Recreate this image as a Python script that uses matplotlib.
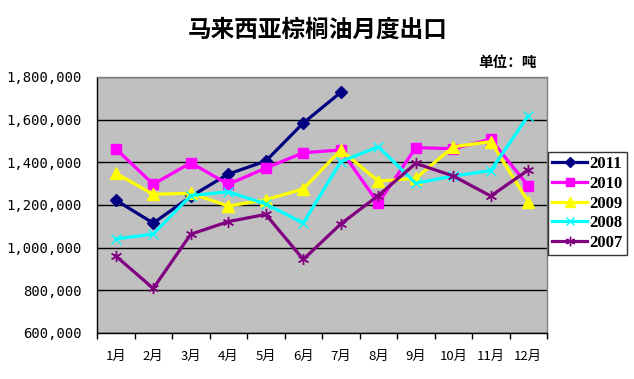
import matplotlib
matplotlib.use("Agg")
import matplotlib.pyplot as plt
from matplotlib.ticker import FuncFormatter, FixedLocator

plt.rcParams['font.family'] = ['Noto Sans CJK SC', 'DejaVu Sans']

months = ['1月', '2月', '3月', '4月', '5月', '6月', '7月', '8月', '9月', '10月', '11月', '12月']
s2011 = [1223000, 1115000, 1240000, 1345000, 1406000, 1584000, 1728000]
s2010 = [1464000, 1297000, 1398000, 1297000, 1373000, 1445000, 1458000, 1208000, 1469000, 1464000, 1508000, 1289000]
s2009 = [1349000, 1250000, 1255000, 1195000, 1225000, 1275000, 1458000, 1312000, 1325000, 1473000, 1497000, 1216000]
s2008 = [1041000, 1064000, 1244000, 1262000, 1205000, 1115000, 1403000, 1473000, 1302000, 1336000, 1361000, 1619000]
s2007 = [961000, 809000, 1063000, 1122000, 1156000, 945000, 1111000, 1244000, 1395000, 1336000, 1242000, 1364000]

series = [
    ('2011', s2011, '#000080', 'D', 6),
    ('2010', s2010, '#FF00FF', 's', 7),
    ('2009', s2009, '#FFFF00', '^', 8),
    ('2008', s2008, '#00FFFF', 'x', 7),
    ('2007', s2007, '#800080', (6, 2, 0), 8),
]

fig = plt.figure(figsize=(6.34, 3.79), dpi=100)
ax = fig.add_axes([97/634, 1-333/379, 450/634, 256/379])
ax.set_facecolor('#C0C0C0')

for i, (name, vals, col, mk, ms) in enumerate(series):
    xs = [j + 0.5 for j in range(len(vals))]
    ax.plot(xs, vals, color=col, lw=2.3, marker=mk, markersize=ms,
            markerfacecolor=col, markeredgecolor=col, markeredgewidth=1.0,
            label=name, zorder=3 + i)

ax.set_xlim(0, 12)
ax.set_ylim(600000, 1800000)
ax.yaxis.set_major_locator(FixedLocator(list(range(600000, 1800001, 200000))))
ax.yaxis.set_major_formatter(FuncFormatter(lambda v, p: f'{int(v):,}'))
ax.grid(axis='y', color='black', lw=1)
ax.set_axisbelow(True)

ax.set_xticks(range(0, 13))
ax.set_xticklabels([])
ax.set_xticks([j + 0.5 for j in range(12)], minor=True)
ax.set_xticklabels(months, minor=True, fontsize=9.5)
ax.tick_params(axis='x', which='major', direction='out', length=4, width=1, color='black')
ax.tick_params(axis='x', which='minor', length=0, pad=12)
ax.tick_params(axis='y', length=0, pad=11)
for lab in ax.get_yticklabels():
    lab.set_fontfamily('DejaVu Sans Mono')
    lab.set_fontsize(10)

for side in ['top', 'right']:
    ax.spines[side].set_color('#808080')
    ax.spines[side].set_linewidth(1)
for side in ['left', 'bottom']:
    ax.spines[side].set_color('black')
    ax.spines[side].set_linewidth(1)

fig.text(318/634, 1-30/379, '马来西亚棕榈油月度出口', ha='center', va='center',
         fontsize=17, fontweight='bold')
fig.text(537/634, 1-62/379, '单位：吨', ha='right', va='center',
         fontsize=10.5, fontweight='bold')

leg = fig.legend(loc='upper left', bbox_to_anchor=(548/634, 1-152/379),
                 frameon=True, fancybox=False, handlelength=2.1, markerscale=0.85,
                 handletextpad=0.15, borderpad=0.25, labelspacing=0.22,
                 borderaxespad=0, prop={'family': 'Liberation Serif', 'weight': 'bold', 'size': 12})
leg.get_frame().set_edgecolor('black')
leg.get_frame().set_linewidth(1)

fig.savefig('out.png', dpi=100)
